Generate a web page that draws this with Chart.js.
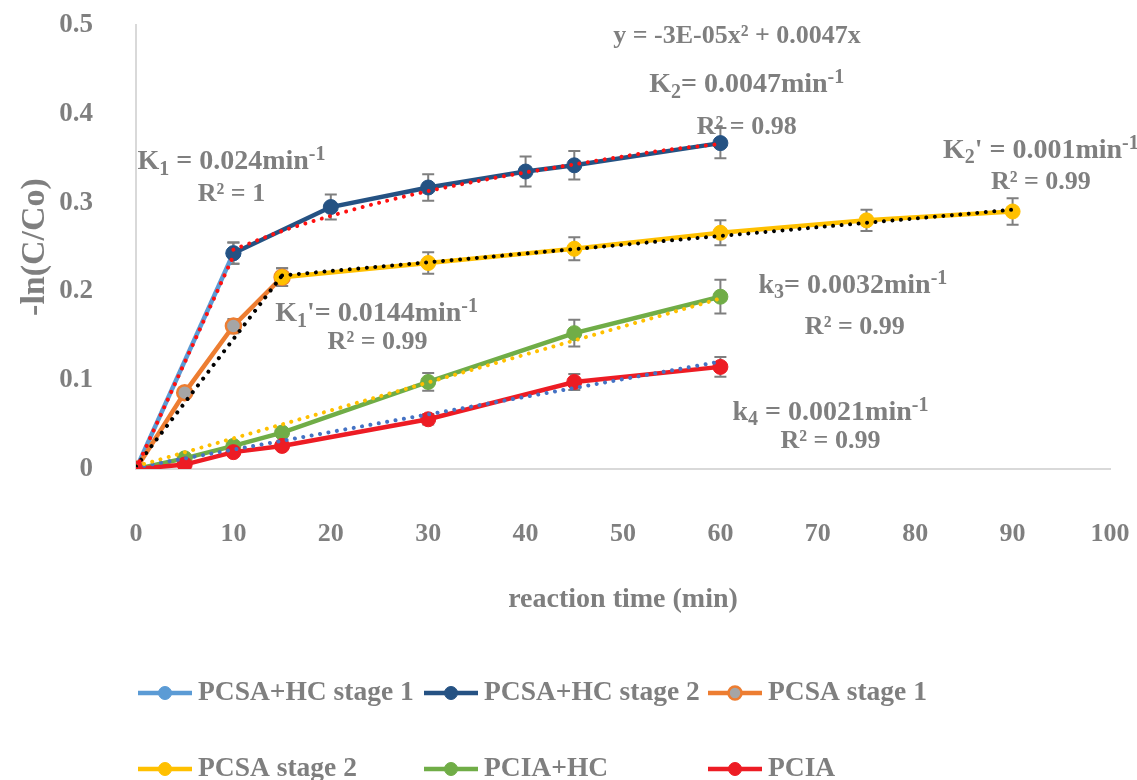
<!DOCTYPE html>
<html><head><meta charset="utf-8">
<script src="https://cdn.jsdelivr.net/npm/chart.js@4"></script>
<style>html,body{margin:0;padding:0;background:#fff}</style>
</head><body>
<canvas id="c" width="1137" height="780"></canvas>
<script>
// ---------- data ----------
const xTickValues = [0,10,20,30,40,50,60,70,80,90,100];
const yTickValues = [0,0.1,0.2,0.3,0.4,0.5];
const yTickLabels = ['0','0.1','0.2','0.3','0.4','0.5'];

const timeHcStage1 = [0, 10];
const pcsaHcStage1 = [0, 0.243];
const pcsaHcStage1Err = [0, 0.012];

const timeHcStage2 = [10, 20, 30, 40, 45, 60];
const pcsaHcStage2 = [0.243, 0.295, 0.317, 0.335, 0.342, 0.367];
const pcsaHcStage2Err = [0.012, 0.014, 0.015, 0.017, 0.016, 0.017];

const timePcsaStage1 = [0, 5, 10, 15];
const pcsaStage1 = [0, 0.086, 0.161, 0.216];
const pcsaStage1Err = [0, 0.003, 0.008, 0.010];

const timePcsaStage2 = [15, 30, 45, 60, 75, 90];
const pcsaStage2 = [0.216, 0.232, 0.248, 0.266, 0.280, 0.290];
const pcsaStage2Err = [0.010, 0.012, 0.013, 0.014, 0.012, 0.015];

const timePcia = [0, 5, 10, 15, 30, 45, 60];
const pciaHc = [0, 0.012, 0.026, 0.041, 0.098, 0.153, 0.194];
const pciaHcErr = [0, 0.003, 0.004, 0.004, 0.010, 0.015, 0.019];
const pcia = [0, 0.005, 0.019, 0.026, 0.056, 0.098, 0.115];
const pciaErr = [0, 0.002, 0.003, 0.003, 0.006, 0.009, 0.011];

// trendlines
const trendHc1X = [0, 10];
const trendHc1Y = [0, 0.240];
const trendHc2X = [10, 15, 20, 25, 30, 35, 40, 45, 50, 55, 60];
const trendHc2Y = [0.247, 0.268, 0.285, 0.300, 0.313, 0.324, 0.334, 0.343, 0.352, 0.360, 0.366];
const trendPcsa1X = [0, 15];
const trendPcsa1Y = [0.003, 0.218];
const trendPcsa2X = [15, 90];
const trendPcsa2Y = [0.218, 0.292];
const trendPciaHcX = [0, 60];
const trendPciaHcY = [0.003, 0.192];
const trendPciaX = [0, 60];
const trendPciaY = [0.002, 0.121];

const seriesLabels = ['PCSA+HC stage 1','PCSA+HC stage 2','PCSA stage 1','PCSA stage 2','PCIA+HC','PCIA'];

const annotations = [
  {x: 9.8,  y: 0.348, size: 28, parts: [['K'],['1','sub'],[' = 0.024min'],['-1','sup']]},
  {x: 9.8,  y: 0.312, size: 26, parts: [['R² = 1']]},
  {x: 24.7, y: 0.177, size: 28, parts: [['K'],['1','sub'],["'= 0.0144min"],['-1','sup']]},
  {x: 24.8, y: 0.145, size: 26, parts: [['R² = 0.99']]},
  {x: 61.7, y: 0.489, size: 26, parts: [['y = -3E-05x² + 0.0047x']]},
  {x: 62.7, y: 0.435, size: 28, parts: [['K'],['2','sub'],['= 0.0047min'],['-1','sup']]},
  {x: 62.7, y: 0.387, size: 26, parts: [['R² = 0.98']]},
  {x: 92.9, y: 0.361, size: 28, parts: [['K'],['2','sub'],["' = 0.001min"],['-1','sup']]},
  {x: 92.9, y: 0.325, size: 26, parts: [['R² = 0.99']]},
  {x: 73.6, y: 0.209, size: 28, parts: [['k'],['3','sub'],['= 0.0032min'],['-1','sup']]},
  {x: 73.8, y: 0.162, size: 26, parts: [['R² = 0.99']]},
  {x: 71.3, y: 0.066, size: 28, parts: [['k'],['4','sub'],[' = 0.0021min'],['-1','sup']]},
  {x: 71.3, y: 0.033, size: 26, parts: [['R² = 0.99']]}
];

// ---------- styling ----------
const FONT = '"Liberation Serif", "Times New Roman", serif';
const GREY = '#7F7F7F';
const pts = (xs, ys) => xs.map((x, i) => ({x, y: ys[i]}));

function series(label, xs, ys, err, color, order, fill, bw) {
  return {label, data: pts(xs, ys), errors: err, isSeries: true,
    borderColor: color, backgroundColor: fill || color,
    pointBackgroundColor: fill || color, pointBorderColor: color,
    pointBorderWidth: bw || 1, pointRadius: 7.5, borderWidth: 4.5,
    tension: 0, fill: false, order};
}
function trend(xs, ys, color) {
  return {label: 'trend', data: pts(xs, ys), isSeries: false,
    borderColor: color, borderWidth: 4, borderDash: [0.01, 8.5],
    borderCapStyle: 'round', pointRadius: 0, tension: 0.3, fill: false, order: 0};
}

const datasets = [
  series(seriesLabels[0], timeHcStage1, pcsaHcStage1, pcsaHcStage1Err, '#5B9BD5', 6),
  series(seriesLabels[1], timeHcStage2, pcsaHcStage2, pcsaHcStage2Err, '#255283', 5),
  series(seriesLabels[2], timePcsaStage1, pcsaStage1, pcsaStage1Err, '#ED7D31', 4, '#A5A5A5', 2.5),
  series(seriesLabels[3], timePcsaStage2, pcsaStage2, pcsaStage2Err, '#FFC000', 3),
  series(seriesLabels[4], timePcia, pciaHc, pciaHcErr, '#70AD47', 2),
  series(seriesLabels[5], timePcia, pcia, pciaErr, '#ED1C24', 1),
  trend(trendHc1X, trendHc1Y, '#FF1010'),
  trend(trendHc2X, trendHc2Y, '#FF1010'),
  trend(trendPcsa1X, trendPcsa1Y, '#000000'),
  trend(trendPcsa2X, trendPcsa2Y, '#000000'),
  trend(trendPciaHcX, trendPciaHcY, '#FFC000'),
  trend(trendPciaX, trendPciaY, '#4472C4')
];

const errorBars = {
  id: 'errorBars',
  beforeDatasetsDraw(chart) {
    const {ctx, scales: {x, y}} = chart;
    ctx.save();
    ctx.strokeStyle = GREY; ctx.lineWidth = 2;
    chart.data.datasets.forEach(ds => {
      if (!ds.errors) return;
      ds.data.forEach((p, i) => {
        const e = ds.errors[i];
        if (!e) return;
        const px = x.getPixelForValue(p.x);
        const y1 = y.getPixelForValue(p.y + e), y2 = y.getPixelForValue(p.y - e);
        ctx.beginPath();
        ctx.moveTo(px, y1); ctx.lineTo(px, y2);
        ctx.moveTo(px - 6, y1); ctx.lineTo(px + 6, y1);
        ctx.moveTo(px - 6, y2); ctx.lineTo(px + 6, y2);
        ctx.stroke();
      });
    });
    ctx.restore();
  }
};

function drawRich(ctx, parts, cx, cy, size) {
  const base = `bold ${size}px ${FONT}`;
  const small = `bold ${Math.round(size * 0.7)}px ${FONT}`;
  let total = 0;
  parts.forEach(p => { ctx.font = p[1] ? small : base; total += ctx.measureText(p[0]).width; });
  let xx = cx - total / 2;
  const baseY = cy + size * 0.33;
  ctx.textBaseline = 'alphabetic';
  ctx.textAlign = 'left';
  parts.forEach(p => {
    ctx.font = p[1] ? small : base;
    let yy = baseY;
    if (p[1] === 'sub') yy += size * 0.2;
    if (p[1] === 'sup') yy -= size * 0.32;
    ctx.fillText(p[0], xx, yy);
    xx += ctx.measureText(p[0]).width;
  });
}

const overlay = {
  id: 'overlay',
  afterDraw(chart) {
    const {ctx, scales: {x, y}} = chart;
    ctx.save();
    ctx.fillStyle = GREY;
    annotations.forEach(a => drawRich(ctx, a.parts, x.getPixelForValue(a.x), y.getPixelForValue(a.y), a.size));
    // legend
    const cols = [138, 424, 708], rows = [693, 769];
    chart.data.datasets.filter(d => d.isSeries).forEach((d, i) => {
      const x0 = cols[i % 3], yy = rows[Math.floor(i / 3)];
      ctx.strokeStyle = d.borderColor; ctx.lineWidth = 4.5;
      ctx.beginPath(); ctx.moveTo(x0, yy); ctx.lineTo(x0 + 54, yy); ctx.stroke();
      ctx.beginPath(); ctx.arc(x0 + 27, yy, 6.5, 0, Math.PI * 2);
      ctx.fillStyle = d.pointBackgroundColor; ctx.fill();
      ctx.lineWidth = d.pointBorderWidth; ctx.strokeStyle = d.pointBorderColor; ctx.stroke();
      ctx.fillStyle = GREY;
      ctx.font = `bold 27.5px ${FONT}`;
      ctx.textBaseline = 'middle'; ctx.textAlign = 'left';
      ctx.fillText(d.label, x0 + 60, yy);
    });
    ctx.restore();
  }
};

new Chart(document.getElementById('c'), {
  type: 'line',
  data: {datasets},
  plugins: [errorBars, overlay],
  options: {
    responsive: false,
    animation: false,
    layout: {padding: {left: 0, top: 25, right: 27, bottom: 160}},
    plugins: {legend: {display: false}, tooltip: {enabled: false}},
    scales: {
      x: {
        type: 'linear', min: 0, max: 100,
        afterBuildTicks: s => { s.ticks = xTickValues.map(v => ({value: v})); },
        afterFit: s => { s.height = 151; },
        grid: {display: true, drawOnChartArea: false, drawTicks: true, tickLength: 47, tickColor: 'rgba(0,0,0,0)', color: 'rgba(0,0,0,0)'},
        border: {display: true, color: '#D9D9D9', width: 2},
        ticks: {padding: 3, color: GREY, font: {family: FONT, size: 26, weight: 'bold'}, maxRotation: 0},
        title: {display: true, text: 'reaction time (min)', color: GREY,
          font: {family: FONT, size: 28, weight: 'bold'}, padding: {top: 0, bottom: 3}}
      },
      y: {
        type: 'linear', min: 0, max: 0.5,
        afterBuildTicks: s => { s.ticks = yTickValues.map(v => ({value: v})); },
        afterFit: s => { s.width = 136; },
        grid: {display: true, drawOnChartArea: false, drawTicks: true, tickLength: 40, tickColor: 'rgba(0,0,0,0)', color: 'rgba(0,0,0,0)'},
        border: {display: true, color: '#D9D9D9', width: 2},
        ticks: {padding: 3, color: GREY, font: {family: FONT, size: 27, weight: 'bold'},
          callback: (v, i) => yTickLabels[i]},
        title: {display: true, text: '-ln(C/Co)', color: GREY,
          font: {family: FONT, size: 34, weight: 'bold'}, padding: {top: 15, bottom: 0}}
      }
    }
  }
});
</script>
</body></html>
